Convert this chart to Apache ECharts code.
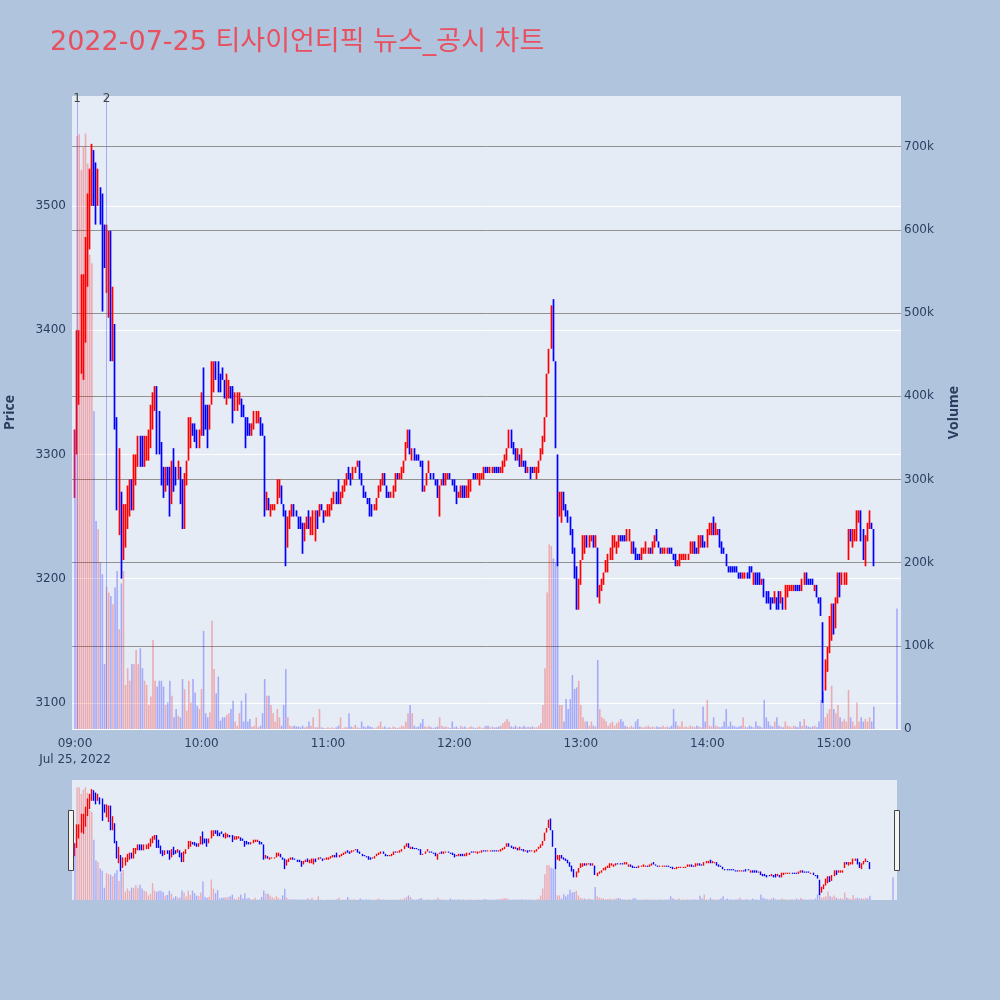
<!DOCTYPE html>
<html><head><meta charset="utf-8">
<script src="https://cdn.jsdelivr.net/npm/echarts@6/dist/echarts.min.js"></script>
<style>html,body{margin:0;padding:0;background:#b0c4de}#c{width:1000px;height:1000px}</style>
</head><body><div id="c"></div>
<script>
const chartTitle = '2022-07-25 티사이언티픽 뉴스_공시 차트';
const dateLabel = 'Jul 25, 2022';
const startMinute = 540;   // 09:00, one candle per minute
const auctionMinute = 930; // 15:30 closing auction (last entry)
const newsTimes = [541, 555];
const newsLabels = ['1', '2'];

const opens = [
3270,3305,3345,3370,3365,3410,3440,3470,3505,3540,
3530,3505,3510,3505,3480,3435,3420,3475,3380,3400,
3325,3240,3265,3220,3230,3245,3255,3280,3260,3280,
3295,3315,3310,3295,3300,3300,3305,3325,3340,3355,
3330,3310,3285,3275,3290,3290,3265,3305,3290,3280,
3290,3280,3245,3280,3295,3305,3325,3325,3320,3305,
3315,3350,3340,3340,3320,3340,3350,3375,3375,3365,
3370,3360,3340,3345,3355,3355,3335,3335,3340,3345,
3340,3330,3330,3325,3315,3320,3325,3325,3330,3325,
3315,3255,3265,3250,3255,3255,3260,3265,3275,3260,
3255,3225,3240,3250,3260,3255,3250,3250,3245,3230,
3240,3255,3235,3235,3230,3255,3250,3260,3255,3250,
3250,3250,3255,3260,3270,3280,3260,3265,3270,3275,
3285,3285,3280,3285,3290,3295,3285,3275,3270,3265,
3265,3260,3255,3255,3265,3270,3275,3285,3275,3270,
3265,3265,3270,3285,3280,3280,3285,3295,3305,3320,
3295,3305,3300,3300,3295,3295,3270,3275,3285,3285,
3285,3280,3280,3260,3275,3285,3275,3280,3285,3280,
3280,3275,3265,3265,3275,3275,3265,3265,3270,3285,
3285,3280,3275,3280,3280,3290,3290,3285,3285,3290,
3290,3290,3285,3285,3290,3295,3305,3320,3310,3305,
3295,3300,3290,3295,3295,3285,3290,3290,3285,3280,
3285,3295,3300,3310,3330,3365,3385,3420,3375,3300,
3250,3250,3270,3260,3255,3250,3240,3225,3210,3180,
3195,3215,3220,3235,3225,3230,3235,3225,3225,3180,
3190,3195,3205,3205,3215,3215,3225,3220,3225,3235,
3235,3235,3230,3230,3220,3230,3225,3220,3220,3215,
3220,3220,3220,3225,3220,3225,3240,3230,3225,3220,
3220,3220,3225,3225,3220,3220,3210,3210,3215,3215,
3215,3215,3220,3220,3230,3225,3220,3225,3235,3230,
3225,3235,3235,3250,3235,3235,3240,3230,3225,3220,
3210,3210,3210,3210,3210,3205,3205,3200,3200,3205,
3210,3210,3195,3205,3205,3205,3195,3200,3190,3190,
3185,3185,3180,3185,3190,3180,3185,3175,3185,3190,
3190,3190,3195,3195,3195,3190,3195,3205,3200,3200,
3200,3190,3195,3185,3185,3165,3115,3125,3140,3150,
3180,3160,3180,3205,3195,3195,3195,3215,3240,3225,
3230,3230,3245,3255,3240,3210,3230,3240,3245,3240,
3195];

const closes = [
3315,3395,3395,3435,3440,3470,3505,3525,3545,3505,
3490,3530,3490,3465,3455,3480,3475,3380,3430,3325,
3260,3300,3205,3255,3255,3270,3275,3260,3295,3300,
3315,3295,3295,3315,3310,3320,3335,3345,3350,3305,
3305,3280,3270,3290,3275,3260,3295,3275,3275,3295,
3270,3245,3285,3295,3330,3330,3315,3310,3305,3320,
3350,3320,3325,3310,3340,3370,3375,3360,3350,3350,
3360,3345,3365,3360,3345,3340,3350,3350,3350,3330,
3330,3305,3315,3315,3325,3335,3335,3330,3315,3315,
3255,3270,3255,3260,3260,3260,3280,3275,3260,3250,
3230,3250,3255,3260,3250,3250,3240,3240,3235,3245,
3250,3240,3250,3255,3255,3240,3260,3255,3245,3255,
3260,3260,3265,3270,3260,3260,3270,3275,3280,3285,
3280,3275,3290,3290,3295,3280,3275,3265,3265,3260,
3255,3250,3260,3265,3275,3280,3285,3275,3265,3265,
3270,3275,3285,3280,3285,3290,3295,3310,3320,3300,
3305,3295,3295,3295,3290,3270,3275,3285,3295,3280,
3280,3275,3265,3275,3280,3275,3285,3285,3280,3275,
3270,3260,3270,3275,3265,3265,3275,3280,3280,3280,
3280,3285,3285,3285,3290,3285,3285,3290,3290,3285,
3285,3285,3290,3295,3300,3305,3320,3305,3300,3295,
3305,3290,3305,3290,3285,3290,3280,3285,3290,3290,
3295,3305,3315,3330,3365,3385,3420,3375,3305,3250,
3270,3270,3255,3250,3245,3235,3220,3200,3185,3200,
3215,3235,3235,3225,3235,3235,3225,3235,3185,3195,
3200,3205,3215,3220,3225,3235,3235,3230,3235,3230,
3230,3230,3240,3240,3230,3220,3215,3215,3215,3225,
3225,3230,3225,3220,3230,3235,3230,3225,3220,3225,
3225,3225,3220,3220,3215,3210,3215,3220,3220,3220,
3220,3220,3230,3230,3220,3220,3235,3235,3225,3225,
3240,3245,3245,3235,3245,3240,3225,3220,3220,3210,
3205,3205,3205,3205,3205,3200,3200,3205,3205,3200,
3200,3205,3205,3195,3195,3195,3200,3185,3180,3180,
3175,3180,3190,3175,3175,3190,3175,3195,3195,3195,
3195,3195,3190,3190,3190,3200,3205,3195,3195,3195,
3195,3195,3185,3180,3170,3110,3135,3145,3170,3180,
3155,3185,3205,3185,3205,3205,3205,3240,3230,3240,
3240,3255,3255,3230,3215,3235,3245,3255,3240,3210,
3195];

const lows = [
3265,3300,3340,3365,3360,3390,3435,3465,3500,3500,
3485,3500,3485,3415,3450,3430,3410,3375,3375,3320,
3255,3235,3200,3215,3225,3240,3250,3255,3255,3275,
3290,3290,3290,3290,3295,3295,3305,3320,3335,3300,
3300,3275,3265,3270,3275,3250,3260,3270,3275,3280,
3260,3240,3240,3275,3295,3305,3315,3310,3305,3305,
3315,3315,3320,3305,3320,3340,3350,3360,3350,3350,
3360,3345,3340,3345,3345,3325,3335,3335,3340,3330,
3330,3305,3315,3315,3315,3320,3325,3325,3315,3315,
3250,3255,3255,3250,3255,3255,3260,3265,3260,3250,
3210,3225,3240,3250,3250,3250,3240,3240,3220,3230,
3240,3240,3235,3235,3230,3240,3250,3255,3245,3250,
3250,3250,3255,3260,3260,3260,3260,3265,3270,3275,
3280,3275,3280,3285,3290,3280,3275,3265,3265,3260,
3250,3250,3255,3255,3265,3270,3275,3275,3265,3265,
3265,3265,3270,3280,3280,3280,3285,3295,3305,3300,
3295,3295,3295,3295,3290,3270,3270,3275,3285,3280,
3280,3275,3265,3250,3275,3275,3275,3280,3280,3275,
3270,3260,3265,3265,3265,3265,3265,3265,3270,3280,
3280,3280,3275,3280,3280,3285,3285,3285,3285,3285,
3285,3285,3285,3285,3290,3295,3305,3305,3300,3295,
3295,3290,3290,3290,3285,3285,3280,3285,3285,3280,
3285,3295,3300,3310,3330,3365,3385,3375,3305,3210,
3250,3245,3255,3250,3245,3235,3220,3200,3175,3175,
3195,3215,3220,3225,3225,3230,3225,3225,3185,3180,
3190,3195,3205,3205,3215,3215,3225,3220,3225,3230,
3230,3230,3230,3230,3220,3220,3215,3215,3215,3215,
3220,3220,3220,3220,3220,3225,3230,3225,3220,3220,
3220,3220,3220,3220,3215,3210,3210,3210,3215,3215,
3215,3215,3220,3220,3220,3220,3220,3225,3225,3225,
3225,3235,3235,3235,3235,3235,3225,3220,3220,3210,
3205,3205,3205,3205,3205,3200,3200,3200,3200,3200,
3200,3205,3195,3195,3195,3195,3195,3185,3180,3180,
3175,3180,3180,3175,3175,3180,3175,3175,3185,3190,
3190,3190,3190,3190,3190,3190,3195,3195,3195,3195,
3195,3190,3185,3180,3170,3100,3110,3125,3140,3150,
3155,3160,3180,3185,3195,3195,3195,3215,3230,3225,
3230,3230,3245,3230,3215,3210,3230,3240,3240,3210,
3195];

const highs = [
3320,3400,3400,3445,3445,3475,3510,3530,3550,3545,
3535,3530,3515,3510,3485,3485,3480,3480,3435,3405,
3330,3305,3270,3260,3260,3275,3280,3280,3300,3300,
3315,3315,3315,3315,3315,3320,3340,3350,3355,3355,
3335,3310,3290,3290,3290,3290,3295,3305,3290,3295,
3290,3280,3285,3295,3330,3330,3325,3325,3320,3320,
3350,3370,3340,3340,3340,3375,3375,3375,3375,3365,
3370,3360,3365,3360,3355,3355,3350,3350,3350,3345,
3340,3330,3330,3325,3325,3335,3335,3335,3330,3325,
3315,3270,3265,3260,3260,3260,3280,3280,3275,3260,
3255,3250,3255,3260,3260,3255,3250,3250,3245,3245,
3250,3255,3250,3255,3255,3255,3260,3260,3255,3255,
3260,3260,3265,3270,3270,3280,3270,3275,3280,3285,
3290,3285,3290,3290,3295,3295,3285,3275,3270,3265,
3265,3260,3260,3265,3275,3280,3285,3285,3275,3270,
3270,3275,3285,3285,3285,3290,3295,3310,3320,3320,
3305,3305,3300,3300,3295,3295,3275,3285,3295,3285,
3285,3280,3280,3275,3280,3285,3285,3285,3285,3280,
3280,3275,3270,3275,3275,3275,3275,3280,3280,3285,
3285,3285,3285,3285,3290,3290,3290,3290,3290,3290,
3290,3290,3290,3295,3300,3305,3320,3320,3310,3305,
3305,3300,3305,3295,3295,3290,3290,3290,3290,3290,
3295,3305,3315,3330,3365,3385,3420,3425,3375,3300,
3270,3270,3270,3260,3255,3250,3240,3225,3210,3200,
3215,3235,3235,3235,3235,3235,3235,3235,3225,3195,
3200,3205,3215,3220,3225,3235,3235,3230,3235,3235,
3235,3235,3240,3240,3230,3230,3225,3220,3220,3225,
3225,3230,3225,3225,3230,3235,3240,3230,3225,3225,
3225,3225,3225,3225,3220,3220,3215,3220,3220,3220,
3220,3220,3230,3230,3230,3225,3235,3235,3235,3230,
3240,3245,3245,3250,3245,3240,3240,3230,3225,3220,
3210,3210,3210,3210,3210,3205,3205,3205,3205,3205,
3210,3210,3205,3205,3205,3205,3200,3200,3190,3190,
3185,3185,3190,3185,3190,3190,3185,3195,3195,3195,
3195,3195,3195,3195,3195,3200,3205,3205,3200,3200,
3200,3195,3195,3185,3185,3165,3135,3145,3170,3180,
3180,3185,3205,3205,3205,3205,3205,3240,3240,3240,
3240,3255,3255,3255,3240,3235,3245,3255,3245,3240,
3195];

// volume in thousands of shares
const volumesK = [
360,713,715,672,700,716,680,570,560,382,
250,240,200,186,78,171,164,160,150,170,
190,120,175,190,53,73,58,78,78,95,
78,97,73,58,53,29,39,107,58,51,
58,58,51,29,32,58,40,14,24,16,
14,60,48,22,58,32,60,44,28,24,
48,118,19,14,20,130,72,43,63,10,
14,14,17,19,24,34,9,4,19,34,
9,43,9,12,3,4,14,2,4,19,
60,40,40,29,19,9,24,14,4,29,
72,14,4,3,4,3,3,2,4,2,
3,9,4,14,2,2,24,2,1,1,
2,1,2,1,2,4,14,1,2,2,
19,3,2,5,2,1,9,3,2,4,
3,2,1,2,4,9,2,3,1,2,
1,3,2,1,2,4,3,9,19,29,
19,4,2,3,7,12,3,2,4,2,
1,2,3,14,4,2,3,2,1,9,
2,3,1,4,2,3,1,2,3,2,
1,2,3,1,2,4,4,2,3,2,
2,3,4,7,9,12,9,3,2,4,
2,3,2,4,2,3,2,3,2,2,
4,7,29,73,164,222,220,205,200,196,
29,29,9,36,24,36,65,48,50,58,
29,14,9,9,4,9,4,3,83,24,
14,12,9,4,7,9,4,7,9,12,
9,4,3,2,4,2,9,12,3,2,
2,3,4,2,3,2,3,2,2,4,
2,3,2,4,24,9,4,3,9,2,
3,2,4,3,2,4,3,2,27,9,
35,4,3,14,4,3,2,3,9,24,
3,9,4,3,2,3,4,14,3,2,
4,3,2,9,4,3,2,35,14,9,
4,3,9,14,4,3,2,9,4,3,
2,4,3,2,9,4,12,4,3,2,
3,4,2,9,35,45,14,19,24,52,
24,19,29,14,9,12,9,47,14,9,
4,32,9,14,9,12,9,14,9,27,
145];

const UP = '#ff0000', DOWN = '#0000ff';
const UP_VOL = 'rgba(255,0,0,0.28)', DOWN_VOL = 'rgba(0,0,255,0.28)';
const FIRST_CANDLE = '#d4145a';
const TXT = '#2a3f5f';
const FONT = '"DejaVu Sans", "Noto Sans CJK KR", sans-serif';
const TITLE_FONT = '"DejaVu Sans", "Noto Sans CJK KR", sans-serif';

const minutes = opens.map((_, i) => i < opens.length - 1 ? startMinute + i : auctionMinute);
const pad = n => (n < 10 ? '0' : '') + n;
const fmtMin = m => pad(Math.floor(m / 60)) + ':' + pad(Math.round(m % 60));
const isUp = i => closes[i] > opens[i];

const candleData = minutes.map((m, i) => {
  const c = i === 0 ? FIRST_CANDLE : (isUp(i) ? UP : DOWN);
  return {
    value: [m, opens[i], closes[i], lows[i], highs[i]],
    itemStyle: { color: c, color0: c, borderColor: c, borderColor0: c, borderColorDoji: c }
  };
});
const volData = minutes.map((m, i) => ({
  value: [m, volumesK[i] * 1000],
  itemStyle: { color: (i > 0 && isUp(i)) ? UP_VOL : DOWN_VOL }
}));

const xMin = 538.575, xMax = 931.9;
const priceMin = 3079, priceMax = 3588.5;
const volMax = 761000;

const chart = echarts.init(document.getElementById('c'), null, { renderer: 'canvas' });
chart.setOption({
  animation: false,
  backgroundColor: '#b0c4de',
  textStyle: { fontFamily: FONT },
  title: {
    text: chartTitle, left: 45, top: 24,
    textStyle: { fontSize: 27, fontWeight: 'normal', color: '#e9505f', fontFamily: TITLE_FONT }
  },
  grid: [
    { left: 72, right: 99, top: 96, bottom: 271, show: true, backgroundColor: '#e5ecf6', borderWidth: 0, containLabel: false, outerBoundsMode: 'none' },
    { left: 72, right: 103, top: 780, height: 120, show: true, backgroundColor: '#e5ecf6', borderWidth: 0, containLabel: false, outerBoundsMode: 'none' }
  ],
  xAxis: [
    {
      type: 'value', gridIndex: 0, min: xMin, max: xMax, minInterval: 60, maxInterval: 60,
      axisLine: { show: false }, axisTick: { show: false }, splitLine: { show: false },
      axisLabel: {
        showMinLabel: false, showMaxLabel: false, margin: 7, color: TXT, fontSize: 12, lineHeight: 16,
        fontFamily: FONT,
        formatter: v => (v === startMinute ? fmtMin(v) + '\n' + dateLabel : fmtMin(v))
      }
    },
    { type: 'value', gridIndex: 1, min: xMin, max: xMax, show: false }
  ],
  yAxis: [
    {
      type: 'value', gridIndex: 0, position: 'left', min: priceMin, max: priceMax,
      minInterval: 100, maxInterval: 100,
      name: 'Price', nameLocation: 'middle', nameGap: 55, nameRotate: 90,
      nameTextStyle: { fontWeight: 'bold', fontSize: 14, color: TXT, fontFamily: '"Open Sans", sans-serif' },
      axisLine: { show: false }, axisTick: { show: false },
      axisLabel: { showMinLabel: false, showMaxLabel: false, margin: 6, color: TXT, fontSize: 12, fontFamily: FONT, formatter: v => String(v) },
      splitLine: { show: true, showMinLine: false, showMaxLine: false, lineStyle: { color: '#ffffff', width: 1 } }
    },
    {
      type: 'value', gridIndex: 0, position: 'right', min: 0, max: volMax, interval: 100000,
      name: 'Volume', nameLocation: 'middle', nameGap: 46, nameRotate: 90,
      nameTextStyle: { fontWeight: 'bold', fontSize: 14, color: TXT, fontFamily: '"Open Sans", sans-serif' },
      axisLine: { show: false }, axisTick: { show: false },
      axisLabel: { showMaxLabel: false, margin: 3, color: TXT, fontSize: 12, fontFamily: FONT,
        formatter: v => (v === 0 ? '0' : (v / 1000) + 'k') },
      splitLine: { show: true, showMaxLine: false,
        lineStyle: { color: ['#ffffff', '#929292', '#929292', '#929292', '#929292', '#929292', '#929292', '#929292', '#929292'], width: 1 } }
    },
    { type: 'value', gridIndex: 1, min: priceMin, max: priceMax, show: false, splitLine: { show: false } },
    { type: 'value', gridIndex: 1, min: 0, max: volMax, show: false, splitLine: { show: false } }
  ],
  series: [
    {
      type: 'bar', name: 'Volume', xAxisIndex: 0, yAxisIndex: 1, data: volData,
      barWidth: 1.6, silent: true
    },
    {
      type: 'candlestick', name: 'Price', xAxisIndex: 0, yAxisIndex: 0, data: candleData,
      barWidth: 0.9, silent: true,
      itemStyle: { borderWidth: 1.7 },
      markLine: {
        silent: true, symbol: ['none', 'none'], animation: false,
        lineStyle: { color: 'rgba(80,100,255,0.45)', width: 1, type: 'solid' },
        label: { show: true, position: 'end', distance: -9, formatter: p => p.name, color: '#444', fontSize: 12, fontFamily: FONT },
        data: newsTimes.map((t, i) => ({ name: newsLabels[i], xAxis: t }))
      }
    },
    {
      type: 'bar', xAxisIndex: 1, yAxisIndex: 3, data: volData, barWidth: 1.4, silent: true
    },
    {
      type: 'candlestick', xAxisIndex: 1, yAxisIndex: 2, data: candleData, barWidth: 0.8, silent: true,
      itemStyle: { borderWidth: 1.4 }
    }
  ],
  graphic: [
    { type: 'rect', left: 68, top: 810, shape: { width: 5, height: 60 }, style: { fill: '#f4f4f4', stroke: '#444', lineWidth: 1 } },
    { type: 'rect', left: 894, top: 810, shape: { width: 5, height: 60 }, style: { fill: '#f4f4f4', stroke: '#444', lineWidth: 1 } }
  ]
});
</script>
</body></html>
